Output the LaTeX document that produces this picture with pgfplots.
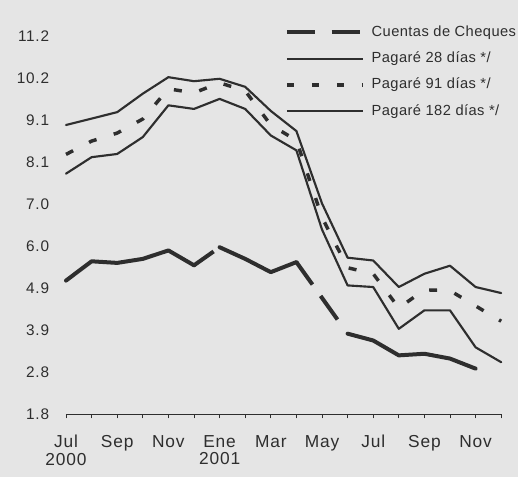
\documentclass[border=0pt]{standalone}
\usepackage{pgfplots}
\pgfplotsset{compat=1.18}
\usepackage{fontspec}
\setmainfont{Liberation Sans}
\newfontfamily\lblfont[LetterSpace=5]{Liberation Sans}
\newfontfamily\legfont[LetterSpace=3]{Liberation Sans}
\definecolor{bg}{gray}{0.9}
\definecolor{ln}{gray}{0.18}
\begin{document}
\begin{tikzpicture}
\fill[bg] (0pt,0pt) rectangle (388.5pt,357.75pt);
\path[use as bounding box] (0pt,0pt) rectangle (388.5pt,357.75pt);
\begin{axis}[
  at={(49.5pt,46.9pt)}, anchor=south west,
  x=19.2pt, y=30.15pt,
  xmin=0, xmax=17, ymin=1.8, ymax=11.2,
  clip=false,
  axis x line*=bottom, axis y line*=left,
  x axis line style={-, ln, line width=0.9pt},
  y axis line style={draw=none},
  xtick={0,...,17},
  xticklabels={{Jul\\2000},,Sep,,Nov,,{Ene\\2001},,Mar,,May,,Jul,,Sep,,Nov,},
  xtick align=outside, major tick length=3pt,
  xtick style={ln, line width=0.6pt},
  xticklabel style={align=center, inner sep=0pt, yshift=-12.5pt, font=\lblfont\fontsize{13}{13.2}\selectfont, text=ln},
  ytick={1.8,2.8444,3.8889,4.9333,5.9778,7.0222,8.0667,9.1111,10.1556,11.2},
  yticklabels={1.8,2.8,3.9,4.9,6.0,7.0,8.1,9.1,10.2,11.2},
  ytick align=inside,
  ytick style={draw=none},
  yticklabel style={inner sep=0pt, anchor=east, xshift=-12.5pt, font=\lblfont\fontsize{11.5}{12}\selectfont, text=ln},
  /pgf/number format/assume math mode=true,
  legend style={at={(0.5032,1.0298)}, anchor=north west, draw=none, fill=none,
    inner sep=0pt, outer sep=0pt, row sep=9pt, column sep=5pt,
    font=\legfont\fontsize{11}{12}\selectfont, text=ln,
    nodes={inner sep=0pt, text height=8.3pt, text depth=2.4pt}},
  legend cell align=left,
  legend image code/.code={\draw[#1] (0pt,0pt) -- (57pt,0pt);},
]
\addlegendimage{ln, line width=3pt, dash pattern=on 21pt off 12.5pt}
\addlegendentry{Cuentas de Cheques}
\addlegendimage{ln, line width=1.8pt}
\addlegendentry{Pagaré 28 días */}
\addlegendimage{ln, line width=2.6pt, dash pattern=on 5pt off 13.75pt}
\addlegendentry{Pagaré 91 días */}
\addlegendimage{ln, line width=1.5pt}
\addlegendentry{Pagaré 182 días */}

% Pagare 28 dias (upper solid)
\addplot[forget plot, ln, line width=1.6pt, line join=round, line cap=round] coordinates {
(0,9.00) (1,9.16) (2,9.32) (3,9.78) (4,10.19) (5,10.09) (6,10.15) (7,9.95) (8,9.35)
(9,8.85) (10,7.05) (11,5.70) (12,5.63) (13,4.97) (14,5.30) (15,5.50) (16,4.97) (17,4.82)};

% Pagare 91 dias (dashed)
\addplot[forget plot, ln, line width=2.6pt, dash pattern=on 6pt off 13.5pt] coordinates {
(0,8.27) (1,8.60) (2,8.80) (3,9.15) (4,9.90) (5,9.80) (6,10.05) (7,9.85) (8,9.00)
(9,8.62) (10,6.70) (11,5.45) (12,5.30) (13,4.45) (14,4.90) (15,4.88) (16,4.50) (17,4.12)};

% Pagare 182 dias (lower solid)
\addplot[forget plot, ln, line width=1.6pt, line join=round, line cap=round] coordinates {
(0,7.79) (1,8.20) (2,8.28) (3,8.70) (4,9.49) (5,9.40) (6,9.65) (7,9.40) (8,8.74)
(9,8.37) (10,6.40) (11,5.01) (12,4.97) (13,3.93) (14,4.39) (15,4.39) (16,3.47) (17,3.10)};

% Cuentas de Cheques (thick, broken)
\addplot[forget plot, ln, line width=3pt, line join=round, line cap=round] coordinates {
(0,5.13) (1,5.61) (2,5.57) (3,5.67) (4,5.88) (5,5.51)};
\addplot[forget plot, ln, line width=3pt, dash pattern=on 18pt off 10pt] coordinates {
(5,5.51) (6,5.96)};
\addplot[forget plot, ln, line width=3pt, line join=round, line cap=round] coordinates {
(6,5.96) (7,5.67) (8,5.34) (9,5.59)};
\addplot[forget plot, ln, line width=3pt, dash pattern=on 20.7pt off 10.5pt on 21.75pt off 14pt] coordinates {
(9,5.59) (10,4.70) (11,3.81)};
\addplot[forget plot, ln, line width=3pt, line join=round, line cap=round] coordinates {
(11,3.81) (12,3.64) (13,3.27) (14,3.31) (15,3.19) (16,2.94)};
\end{axis}
\end{tikzpicture}
\end{document}
